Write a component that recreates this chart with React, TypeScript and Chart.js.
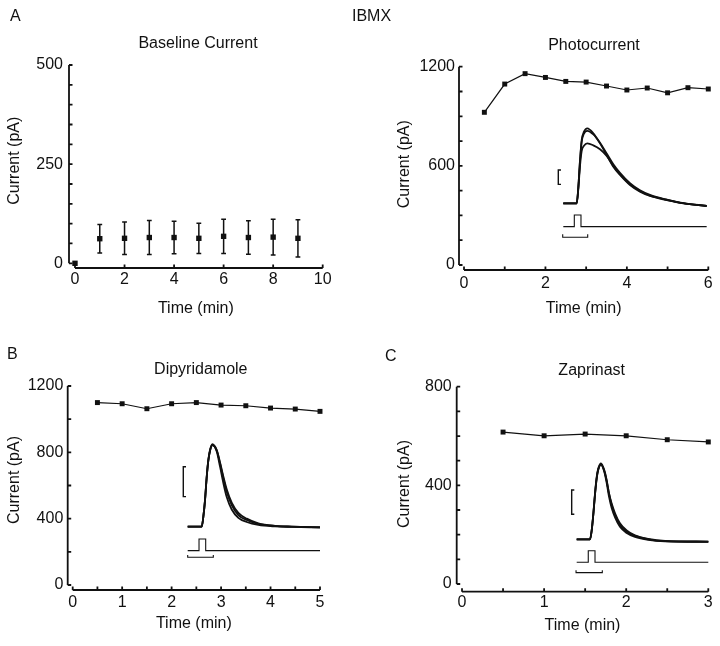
import React, { useEffect, useRef } from 'react';
import { Chart, registerables } from 'chart.js';
Chart.register(...registerables);

const FONT = '"Liberation Sans", Arial, Helvetica, sans-serif';
const INK = '#111';
const TICK = 3.5;
const Y_TITLE = 'Current (pA)';
const X_TITLE = 'Time (min)';

// ---------- Panel A: IBMX, baseline current ----------
const baseTime = [0, 1, 2, 3, 4, 5, 6, 7, 8, 9];
const baseMean = [0, 62, 63, 65, 65, 63, 68, 65, 66, 63];
const baseErr = [0, 36, 41, 43, 41, 38, 43, 42, 45, 47];
const baseXLabels = [0, 2, 4, 6, 8, 10];
const baseXMarks = [0, 2, 4, 6, 8, 10];
const baseYLabels = [0, 250, 500];
const baseYMarks = [0, 50, 100, 150, 200, 250, 300, 350, 400, 450, 500];

// ---------- Panel A: IBMX, photocurrent ----------
const photoTime = [0.5, 1, 1.5, 2, 2.5, 3, 3.5, 4, 4.5, 5, 5.5, 6];
const photoCurrent = [924, 1095, 1158, 1135, 1111, 1107, 1083, 1059, 1071, 1042, 1073, 1065];
const photoXLabels = [0, 2, 4, 6];
const photoXMarks = [0, 1, 2, 3, 4, 5, 6];
const photoYLabels = [0, 600, 1200];
const photoYMarks = [0, 150, 300, 450, 600, 750, 900, 1050, 1200];
// inset (drawn in the panel's own axis units)
const photoInsetTime = [2.439, 2.768, 2.808, 2.849, 2.89, 2.947, 3.028, 3.176, 3.34, 3.504, 3.667, 3.831, 4.077, 4.322, 4.568, 4.978, 5.386, 5.96];
const photoTraceA = [373, 373, 474, 635, 756, 807, 827, 797, 736, 666, 595, 545, 484, 444, 418, 393, 373, 357];
const photoTraceB = [373, 373, 470, 628, 745, 795, 812, 790, 740, 675, 610, 558, 495, 452, 424, 396, 375, 358];
const photoTraceC = [373, 373, 460, 600, 690, 722, 736, 724, 700, 660, 600, 550, 488, 448, 420, 395, 374, 357];
const photoStimTime = [2.439, 2.709, 2.709, 2.873, 2.873, 5.96];
const photoStimLevel = [232, 232, 303, 303, 232, 232];
const photoBarTime = [2.424, 2.424, 3.038, 3.038];
const photoBarLevel = [186, 168, 168, 186];
const photoScaleTime = [2.382, 2.316, 2.316, 2.382];
const photoScaleLevel = [575, 575, 488, 488];

// ---------- Panel B: Dipyridamole ----------
const dipyTime = [0.5, 1, 1.5, 2, 2.5, 3, 3.5, 4, 4.5, 5];
const dipyCurrent = [1100, 1093, 1063, 1093, 1100, 1085, 1081, 1067, 1061, 1047];
const dipyXLabels = [0, 1, 2, 3, 4, 5];
const dipyXMarks = [0, 0.5, 1, 1.5, 2, 2.5, 3, 3.5, 4, 4.5, 5];
const dipyYLabels = [0, 400, 800, 1200];
const dipyYMarks = [0, 200, 400, 600, 800, 1000, 1200];
const dipyInsetTime = [2.325, 2.608, 2.641, 2.675, 2.709, 2.742, 2.776, 2.823, 2.912, 2.978, 3.046, 3.114, 3.215, 3.349, 3.518, 3.753, 4.09, 4.428, 5.0];
const dipyTraceA = [352, 352, 412, 513, 653, 754, 814, 850, 814, 734, 643, 563, 482, 422, 392, 368, 356, 352, 348];
const dipyTraceB = [352, 352, 411, 510, 650, 750, 810, 845, 805, 715, 615, 530, 455, 405, 380, 362, 353, 350, 347];
const dipyTraceC = [352, 352, 410, 508, 645, 748, 808, 842, 812, 740, 655, 578, 497, 435, 400, 372, 357, 352, 348];
const dipyStimTime = [2.325, 2.554, 2.554, 2.689, 2.689, 5.0];
const dipyStimLevel = [207, 207, 277, 277, 207, 207];
const dipyBarTime = [2.325, 2.325, 2.843, 2.843];
const dipyBarLevel = [181, 167, 167, 181];
const dipyScaleTime = [2.291, 2.236, 2.236, 2.291];
const dipyScaleLevel = [713, 713, 533, 533];

// ---------- Panel C: Zaprinast ----------
const zapTime = [0.5, 1, 1.5, 2, 2.5, 3];
const zapCurrent = [616, 601, 608, 601, 585, 576];
const zapXLabels = [0, 1, 2, 3];
const zapXMarks = [0, 0.5, 1, 1.5, 2, 2.5, 3];
const zapYLabels = [0, 400, 800];
const zapYMarks = [0, 100, 200, 300, 400, 500, 600, 700, 800];
const zapInsetTime = [1.397, 1.559, 1.58, 1.6, 1.62, 1.641, 1.66, 1.693, 1.733, 1.762, 1.79, 1.823, 1.864, 1.924, 2.006, 2.107, 2.269, 2.473, 3.0];
const zapTraceA = [181, 181, 219, 287, 368, 435, 469, 489, 462, 422, 368, 320, 280, 239, 212, 195, 181, 174, 172];
const zapTraceB = [181, 181, 218, 284, 364, 430, 465, 485, 455, 410, 355, 308, 270, 232, 207, 191, 179, 173, 171];
const zapTraceC = [181, 181, 217, 283, 362, 428, 463, 483, 458, 418, 368, 326, 287, 246, 217, 197, 183, 175, 172];
const zapStimTime = [1.397, 1.538, 1.538, 1.62, 1.62, 3.0];
const zapStimLevel = [88, 88, 135, 135, 88, 88];
const zapBarTime = [1.389, 1.389, 1.709, 1.709];
const zapBarLevel = [56, 46, 46, 56];
const zapScaleTime = [1.368, 1.336, 1.336, 1.368];
const zapScaleLevel = [381, 381, 283, 283];

const pts = (xs: number[], ys: number[]) => xs.map((x, i) => ({ x, y: ys[i] }));

const series = (xs: number[], ys: number[], showLine: boolean, r: number) => ({
  data: pts(xs, ys),
  showLine,
  borderColor: INK,
  borderWidth: 1.2,
  pointStyle: 'rect',
  pointRadius: r,
  pointBackgroundColor: INK,
  pointBorderColor: INK,
  pointBorderWidth: 0,
  tension: 0,
  clip: false,
});

const trace = (xs: number[], ys: number[], w = 1.8) => ({
  data: pts(xs, ys),
  borderColor: INK,
  borderWidth: w,
  pointRadius: 0,
  cubicInterpolationMode: 'monotone',
  clip: false,
});

const poly = (xs: number[], ys: number[], w = 1.1) => ({
  data: pts(xs, ys),
  borderColor: INK,
  borderWidth: w,
  pointRadius: 0,
  tension: 0,
  clip: false,
});

type Spec = {
  id: string; left: number; top: number; w: number; h: number;
  pad: { left: number; right: number; top: number; bottom: number };
  yWidth: number; xHeight: number; yTickPad: number; xTickPad: number;
  xMin: number; xMax: number; yMin: number; yMax: number;
  xLabels: number[]; yLabels: number[]; xMarks: number[]; yMarks: number[];
  title: string; titleDx: number; titleDy: number;
  yTitleDx: number; yTitleDy: number;
  datasets: any[];
  errors?: { x: number[]; m: number[]; e: number[] };
};

const specs: Spec[] = [
  {
    id: 'base', left: 0, top: 0, w: 360, h: 320,
    pad: { left: 5.4, right: 37.3, top: 65, bottom: 1.4 },
    yWidth: 63.6, xHeight: 50.6, yTickPad: 6, xTickPad: 2.4,
    xMin: -0.242, xMax: 10, yMin: -11.85, yMax: 500,
    xLabels: baseXLabels, yLabels: baseYLabels, xMarks: baseXMarks, yMarks: baseYMarks,
    title: 'Baseline Current', titleDx: 129, titleDy: -21.7,
    yTitleDx: -54, yTitleDy: 95.7,
    datasets: [series(baseTime, baseMean, false, 3.8)],
    errors: { x: baseTime, m: baseMean, e: baseErr },
  },
  {
    id: 'photo', left: 360, top: 0, w: 360, h: 320,
    pad: { left: 35.4, right: 11.7, top: 66.7, bottom: 1.4 },
    yWidth: 63.6, xHeight: 48.6, yTickPad: 4, xTickPad: 4.1,
    xMin: -0.123, xMax: 6, yMin: -30.25, yMax: 1200,
    xLabels: photoXLabels, yLabels: photoYLabels, xMarks: photoXMarks, yMarks: photoYMarks,
    title: 'Photocurrent', titleDx: 135, titleDy: -21.2,
    yTitleDx: -54, yTitleDy: 97.5,
    datasets: [
      trace(photoInsetTime, photoTraceC),
      trace(photoInsetTime, photoTraceB),
      trace(photoInsetTime, photoTraceA),
      poly(photoStimTime, photoStimLevel),
      poly(photoBarTime, photoBarLevel),
      poly(photoScaleTime, photoScaleLevel, 1.4),
      series(photoTime, photoCurrent, true, 3.5),
    ],
  },
  {
    id: 'dipy', left: 0, top: 320, w: 360, h: 326,
    pad: { left: 5.4, right: 40, top: 66, bottom: 12.4 },
    yWidth: 62.3, xHeight: 43.6, yTickPad: 4.4, xTickPad: 3.1,
    xMin: -0.101, xMax: 5, yMin: -30.2, yMax: 1200,
    xLabels: dipyXLabels, yLabels: dipyYLabels, xMarks: dipyXMarks, yMarks: dipyYMarks,
    title: 'Dipyridamole', titleDx: 133.1, titleDy: -16.3,
    yTitleDx: -52.7, yTitleDy: 94,
    datasets: [
      trace(dipyInsetTime, dipyTraceC),
      trace(dipyInsetTime, dipyTraceB),
      trace(dipyInsetTime, dipyTraceA),
      poly(dipyStimTime, dipyStimLevel),
      poly(dipyBarTime, dipyBarLevel),
      poly(dipyScaleTime, dipyScaleLevel, 1.4),
      series(dipyTime, dipyCurrent, true, 3.5),
    ],
  },
  {
    id: 'zap', left: 360, top: 320, w: 360, h: 326,
    pad: { left: 35.4, right: 11.7, top: 66.7, bottom: 10.4 },
    yWidth: 61.3, xHeight: 43.9, yTickPad: 5, xTickPad: 1.4,
    xMin: -0.0646, xMax: 3, yMin: -31.2, yMax: 800,
    xLabels: zapXLabels, yLabels: zapYLabels, xMarks: zapXMarks, yMarks: zapYMarks,
    title: 'Zaprinast', titleDx: 135, titleDy: -16.2,
    yTitleDx: -51.7, yTitleDy: 97.3,
    datasets: [
      trace(zapInsetTime, zapTraceC),
      trace(zapInsetTime, zapTraceB),
      trace(zapInsetTime, zapTraceA),
      poly(zapStimTime, zapStimLevel),
      poly(zapBarTime, zapBarLevel),
      poly(zapScaleTime, zapScaleLevel, 1.4),
      series(zapTime, zapCurrent, true, 3.5),
    ],
  },
];

function framePlugin(spec: Spec) {
  return {
    id: 'frame_' + spec.id,
    afterDatasetsDraw(chart: any) {
      const { ctx, chartArea } = chart;
      const xs = chart.scales.x;
      const ys = chart.scales.y;
      ctx.save();
      ctx.strokeStyle = INK;
      ctx.lineWidth = 1.8;
      ctx.beginPath();
      const ax = chartArea.left;
      const ay = chartArea.bottom;
      const yTop = ys.getPixelForValue(spec.yMarks[spec.yMarks.length - 1]);
      ctx.moveTo(ax, yTop);
      ctx.lineTo(ax, ys.getPixelForValue(0));
      spec.yMarks.forEach((v) => {
        const p = ys.getPixelForValue(v);
        ctx.moveTo(ax, p);
        ctx.lineTo(ax + TICK, p);
      });
      ctx.moveTo(xs.getPixelForValue(0), ay);
      ctx.lineTo(xs.getPixelForValue(spec.xMarks[spec.xMarks.length - 1]), ay);
      spec.xMarks.forEach((v) => {
        const p = xs.getPixelForValue(v);
        ctx.moveTo(p, ay);
        ctx.lineTo(p, ay - TICK);
      });
      ctx.stroke();
      if (spec.errors) {
        const { x, m, e } = spec.errors;
        ctx.lineWidth = 1.5;
        ctx.beginPath();
        x.forEach((xv, i) => {
          if (!e[i]) return;
          const px = xs.getPixelForValue(xv);
          const lo = ys.getPixelForValue(m[i] - e[i]);
          const hi = ys.getPixelForValue(m[i] + e[i]);
          ctx.moveTo(px, lo);
          ctx.lineTo(px, hi);
          ctx.moveTo(px - 2.4, lo);
          ctx.lineTo(px + 2.4, lo);
          ctx.moveTo(px - 2.4, hi);
          ctx.lineTo(px + 2.4, hi);
        });
        ctx.stroke();
      }
      ctx.fillStyle = INK;
      ctx.font = `16px ${FONT}`;
      ctx.textAlign = 'center';
      ctx.textBaseline = 'middle';
      ctx.fillText(spec.title, chartArea.left + spec.titleDx, chartArea.top + spec.titleDy);
      ctx.translate(chartArea.left + spec.yTitleDx, chartArea.top + spec.yTitleDy);
      ctx.rotate(-Math.PI / 2);
      ctx.fillText(Y_TITLE, 0, 0);
      ctx.restore();
    },
  };
}

function Panel({ spec }: { spec: Spec }) {
  const ref = useRef<HTMLCanvasElement | null>(null);
  useEffect(() => {
    if (!ref.current) return;
    const tickFont = { family: FONT, size: 16 };
    const titleFont = { family: FONT, size: 16 };
    const chart = new Chart(ref.current, {
      type: 'line',
      data: { datasets: spec.datasets },
      options: {
        responsive: false,
        animation: false,
        events: [],
        layout: { padding: spec.pad },
        plugins: { legend: { display: false }, tooltip: { enabled: false }, title: { display: false } },
        scales: {
          x: {
            type: 'linear',
            min: spec.xMin,
            max: spec.xMax,
            grid: { display: false, drawTicks: false },
            border: { display: false },
            afterBuildTicks: (s: any) => { s.ticks = spec.xLabels.map((v) => ({ value: v })); },
            afterFit: (s: any) => { s.height = spec.xHeight; },
            ticks: { autoSkip: false, maxRotation: 0, padding: spec.xTickPad, font: tickFont, color: INK, callback: (v: any) => String(v) },
            title: { display: true, text: X_TITLE, font: titleFont, color: INK, padding: 0 },
          },
          y: {
            type: 'linear',
            min: spec.yMin,
            max: spec.yMax,
            grid: { display: false, drawTicks: false },
            border: { display: false },
            afterBuildTicks: (s: any) => { s.ticks = spec.yLabels.map((v) => ({ value: v })); },
            afterFit: (s: any) => { s.width = spec.yWidth; },
            ticks: { autoSkip: false, padding: spec.yTickPad, font: tickFont, color: INK, callback: (v: any) => String(v) },
            title: { display: false },
          },
        },
      } as any,
      plugins: [framePlugin(spec)],
    } as any);
    return () => chart.destroy();
  }, [spec]);
  return (
    <canvas
      ref={ref}
      width={spec.w}
      height={spec.h}
      style={{ position: 'absolute', left: spec.left, top: spec.top, width: spec.w, height: spec.h }}
    />
  );
}

const letterStyle = (left: number, top: number): React.CSSProperties => ({
  position: 'absolute', left, top, font: `16px ${FONT}`, lineHeight: '16px', color: INK,
});

export default function App() {
  return (
    <div style={{ position: 'absolute', left: 0, top: 0, width: 720, height: 646, background: '#fff', overflow: 'hidden' }}>
      {specs.map((s) => <Panel key={s.id} spec={s} />)}
      <div style={letterStyle(10, 8)}>A</div>
      <div style={letterStyle(352, 8)}>IBMX</div>
      <div style={letterStyle(7, 346)}>B</div>
      <div style={letterStyle(385, 348)}>C</div>
    </div>
  );
}
